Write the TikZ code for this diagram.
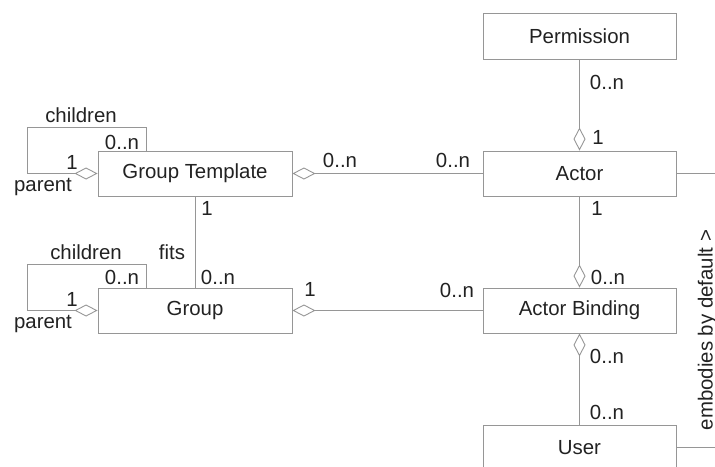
\documentclass[tikz,border=0pt]{standalone}
\usepackage{fontspec}
\setmainfont{Liberation Sans}
\usetikzlibrary{arrows.meta}
\definecolor{linegray}{RGB}{150,150,150}
\definecolor{inkgray}{RGB}{34,34,34}
\begin{document}
\begin{tikzpicture}[x=1pt,y=-1pt,
  umlfont/.style={font=\fontsize{20.4}{24}\selectfont, text=inkgray},
  cls/.style={umlfont, draw=linegray, line width=0.9pt, minimum width=193pt,
    minimum height=45pt, inner sep=0pt},
  lbl/.style={umlfont, inner sep=0pt},
  assoc/.style={draw=linegray, line width=0.9pt},
  agg/.style={assoc, {Diamond[open, length=23pt, width=12pt]}-}]
\useasboundingbox (0,0) rectangle (715,466);

% classes
\node[cls, minimum height=46pt] (perm) at (579.5,36) {Permission};
\node[cls] (actor) at (579.5,173.5) {Actor};
\node[cls] (ab) at (579.5,310.5) {Actor Binding};
\node[cls] (user) at (579.5,447.5) {User};
\node[cls, minimum width=194pt] (gt) at (195,173.5) {Group Template};
\node[cls, minimum width=194pt] (grp) at (195,310.5) {Group};

% free ends at the right border
\coordinate (actorout) at (715,173.5);
\coordinate (userout) at (715,447.5);

% self associations
\draw[agg] (gt.west) -| (27,127) -| ([xshift=49pt]gt.north west);
\draw[agg] (grp.west) -| (27,264) -| ([xshift=49pt]grp.north west);

% associations
\draw[assoc] (gt.south) -- (grp.north);
\draw[agg] (gt.east) -- (actor.west);
\draw[agg] (grp.east) -- (ab.west);
\draw[agg] (actor.north) -- (perm.south);
\draw[agg] (ab.north) -- (actor.south);
\draw[agg] (ab.south) -- (user.north);
\draw[assoc] (actor.east) -- (actorout);
\draw[assoc] (user.east) -- (userout);

% role names and multiplicities
\node[lbl] (l1) at (81,115) {children};
\node[lbl] (l2) at (122,142) {0..n};
\node[lbl] (l3) at (72,162) {1};
\node[lbl] (l4) at (43,187) {parent};

\node[lbl] (l5) at (86,252) {children};
\node[lbl] (l6) at (122,277) {0..n};
\node[lbl] (l7) at (72,299) {1};
\node[lbl] (l8) at (43,324) {parent};

\node[lbl] (l9) at (207,208) {1};
\node[lbl] (l10) at (172,252) {fits};
\node[lbl] (l11) at (218,277) {0..n};

\node[lbl] (l12) at (340,160) {0..n};
\node[lbl] (l13) at (453,160) {0..n};
\node[lbl] (l14) at (310,289) {1};
\node[lbl] (l15) at (457,290) {0..n};

\node[lbl] (l16) at (607,82) {0..n};
\node[lbl] (l17) at (598,137) {1};
\node[lbl] (l18) at (597,208) {1};
\node[lbl] (l19) at (608,277) {0..n};
\node[lbl] (l20) at (607,356) {0..n};
\node[lbl] (l21) at (607,412) {0..n};

\node[lbl, rotate=90, anchor=base] (emb) at (712.5,330) {embodies by default >};
\end{tikzpicture}
\end{document}
